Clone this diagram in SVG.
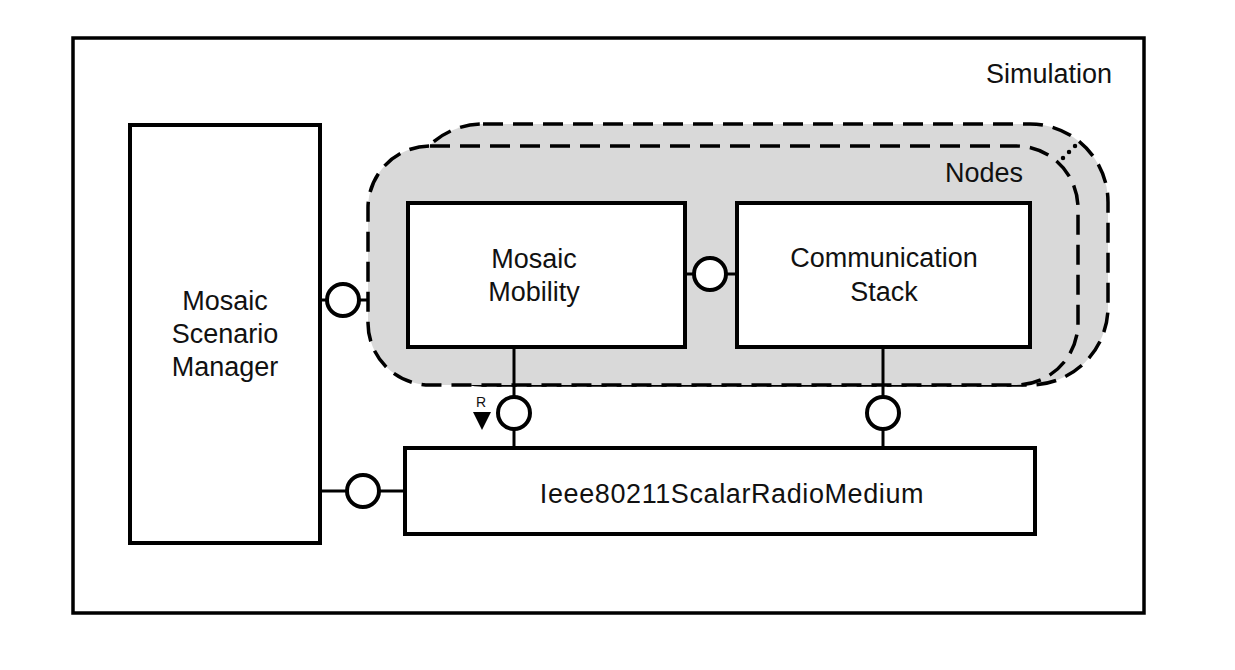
<svg xmlns="http://www.w3.org/2000/svg" width="1235" height="670" viewBox="0 0 1235 670">
<style>
text{font-family:"Liberation Sans",Arial,sans-serif;font-size:27px;fill:#111}
.box{fill:#fff;stroke:#000;stroke-width:4}
.grp{fill:#d9d9d9;stroke:#000;stroke-width:3.5;stroke-dasharray:20 10}
.ln{stroke:#000;stroke-width:3;fill:none}
.ifc{fill:#fff;stroke:#000;stroke-width:4}
</style>
<rect width="1235" height="670" fill="#fff"/>
<g id="simulation">
<rect x="73" y="38" width="1071" height="575" fill="#fff" stroke="#000" stroke-width="3.5"/>
<text x="1112" y="83" text-anchor="end">Simulation</text>
</g>
<g id="nodes">
<rect class="grp" x="405" y="124" width="703" height="261" rx="78"/>
<rect class="grp" x="368" y="146" width="710" height="239" rx="62"/>
<line x1="1063" y1="158" x2="1081" y2="140" stroke="#000" stroke-width="4.5" stroke-linecap="round" stroke-dasharray="0 8.5"/>
<text x="1023" y="182" text-anchor="end">Nodes</text>
</g>
<g id="scenario-manager">
<rect class="box" x="130" y="125" width="190" height="418"/>
<text x="225" y="310" text-anchor="middle">Mosaic</text>
<text x="225" y="343" text-anchor="middle">Scenario</text>
<text x="225" y="376" text-anchor="middle">Manager</text>
</g>
<g id="mosaic-mobility">
<rect class="box" x="408" y="203" width="277" height="144"/>
<text x="534" y="268" text-anchor="middle">Mosaic</text>
<text x="534" y="301" text-anchor="middle">Mobility</text>
</g>
<g id="communication-stack">
<rect class="box" x="737" y="203" width="293" height="144"/>
<text x="884" y="267" text-anchor="middle">Communication</text>
<text x="884" y="301" text-anchor="middle">Stack</text>
</g>
<g id="radio-medium">
<rect class="box" x="405" y="448" width="630" height="86"/>
<text x="732" y="503" text-anchor="middle" letter-spacing="0.6">Ieee80211ScalarRadioMedium</text>
</g>
<g id="connectors">
<line class="ln" x1="320" y1="300" x2="368" y2="300"/>
<circle class="ifc" cx="343" cy="300" r="16"/>
<line class="ln" x1="685" y1="274" x2="737" y2="274"/>
<circle class="ifc" cx="710" cy="274" r="16"/>
<line class="ln" x1="514" y1="347" x2="514" y2="448"/>
<circle class="ifc" cx="514" cy="413" r="16"/>
<line class="ln" x1="883" y1="347" x2="883" y2="448"/>
<circle class="ifc" cx="883" cy="413" r="16"/>
<line class="ln" x1="320" y1="491" x2="405" y2="491"/>
<circle class="ifc" cx="363" cy="491" r="16"/>
<text x="481" y="407" text-anchor="middle" style="font-size:14px">R</text>
<polygon points="473,412 491,412 482,430" fill="#000"/>
</g>
</svg>
